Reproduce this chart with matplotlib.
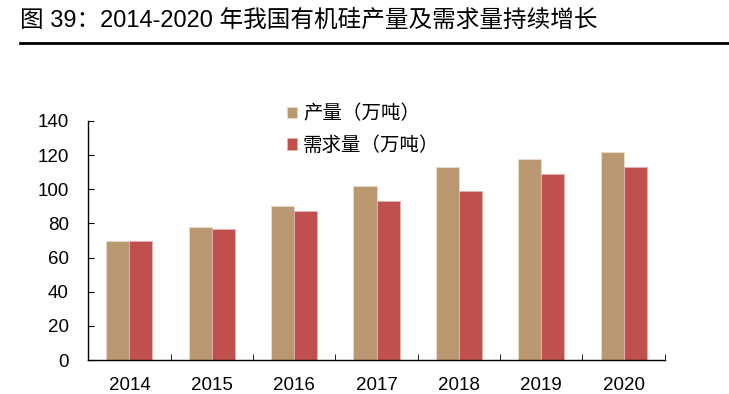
import matplotlib.pyplot as plt
import numpy as np
from matplotlib.ticker import FixedLocator

plt.rcParams['font.family'] = ['Liberation Sans', 'Noto Sans CJK SC', 'DejaVu Sans']

# Data
years = ['2014', '2015', '2016', '2017', '2018', '2019', '2020']
production = [70, 78, 90, 102, 113, 118, 122]   # 产量（万吨）
demand = [69.5, 77, 87.5, 93, 99, 109, 113]     # 需求量（万吨）

fig = plt.figure(figsize=(7.29, 3.94), dpi=100)
ax = fig.add_axes([0.121, 0.086, 0.791, 0.607])

x = np.arange(len(years))
w = 0.28
ax.bar(x - w / 2, production, w, color='#BA9872', edgecolor='#E8DCCD', linewidth=0.6, label='产量（万吨）')
ax.bar(x + w / 2, demand, w, color='#C0504D', edgecolor='#E6B3B1', linewidth=0.6, label='需求量（万吨）')

ax.set_xlim(-0.5, len(years) - 0.5)
ax.set_ylim(0, 140)
ax.set_yticks(range(0, 141, 20))
ax.set_xticks(x)
ax.set_xticklabels(years)
ax.xaxis.set_minor_locator(FixedLocator(np.arange(-0.5, len(years), 1)))
ax.tick_params(axis='x', which='major', length=0, pad=12, labelsize=13.5)
ax.tick_params(axis='x', which='minor', length=4, direction='in', color='black')
ax.tick_params(axis='y', length=4, direction='in', labelsize=13.5, pad=14, color='black')
for s in ['top', 'right']:
    ax.spines[s].set_visible(False)
for s in ['left', 'bottom']:
    ax.spines[s].set_color('black')
    ax.spines[s].set_linewidth(1.0)

leg = ax.legend(loc='upper left', bbox_to_anchor=(0.394, 0.738), bbox_transform=fig.transFigure,
                frameon=False, borderpad=0, borderaxespad=0,
                prop={'family': ['Noto Sans CJK SC'], 'size': 14},
                handlelength=0.52, handleheight=0.52, handletextpad=0.3, labelspacing=0.55)

# Title and rule under it
fig.text(0.028, 0.948, '图 39：2014-2020 年我国有机硅产量及需求量持续增长',
         fontsize=17, va='center', ha='left', family=['Liberation Sans', 'Noto Sans CJK SC'])
fig.add_artist(plt.Line2D([0.027, 1.0], [0.891, 0.891], color='black', linewidth=2))

fig.savefig('out.png', dpi=100)
